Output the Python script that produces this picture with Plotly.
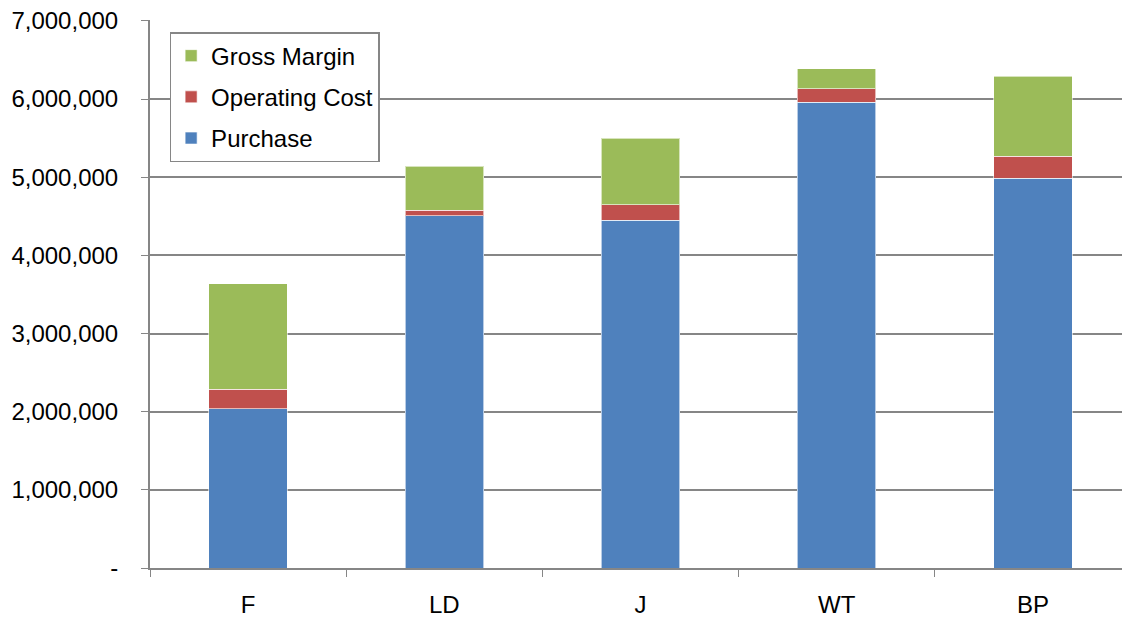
import plotly.graph_objects as go

categories = ["F", "LD", "J", "WT", "BP"]
purchase = [2040000, 4510000, 4450000, 5960000, 4990000]
operating_cost = [250000, 70000, 200000, 175000, 280000]
gross_margin = [1350000, 560000, 850000, 255000, 1020000]
y_tick_vals = [0, 1000000, 2000000, 3000000, 4000000, 5000000, 6000000, 7000000]
y_tick_text = ["-", "1,000,000", "2,000,000", "3,000,000", "4,000,000",
               "5,000,000", "6,000,000", "7,000,000"]

fig = go.Figure()
line = dict(color="rgba(255,255,255,0.6)", width=1)
fig.add_trace(go.Bar(name="Purchase", x=categories, y=purchase, legendgroup="p",
                     legendrank=3, marker=dict(color="#4F81BD", line=line)))
fig.add_trace(go.Bar(name="Operating Cost", x=categories, y=operating_cost, legendgroup="o",
                     legendrank=2, marker=dict(color="#C0504D", line=line)))
fig.add_trace(go.Bar(name="Gross Margin", x=categories, y=gross_margin, legendgroup="g",
                     legendrank=1, marker=dict(color="#9BBB59", line=line)))

fig.update_layout(
    barmode="stack",
    bargap=0.6,
    width=1130, height=617,
    margin=dict(l=142, r=7, t=12, b=57),
    paper_bgcolor="white", plot_bgcolor="white",
    font=dict(family="Liberation Sans, Arial, sans-serif", size=24, color="black"),
    legend=dict(
        x=0.02, y=0.978, xanchor="left", yanchor="top",
        traceorder="grouped",
        bordercolor="#868686", borderwidth=1.5,
        bgcolor="white",
        font=dict(size=24),
        itemwidth=30,
        tracegroupgap=7,
    ),
    xaxis=dict(
        automargin=False,
        showline=True, linecolor="#868686", linewidth=2,
        ticks="outside", tickson="boundaries", ticklen=7, tickcolor="#868686",
        ticklabelstandoff=14,
        showgrid=False,
    ),
    yaxis=dict(
        automargin=False,
        range=[0, 7012000],
        tickvals=y_tick_vals, ticktext=y_tick_text,
        ticklabeloverflow="allow",
        showline=True, linecolor="#868686", linewidth=2,
        ticks="outside", ticklen=7, tickcolor="#868686",
        ticklabelstandoff=18,
        showgrid=True, gridcolor="#868686", gridwidth=1.5,
        zeroline=False,
    ),
)

fig.write_html("out.html")
